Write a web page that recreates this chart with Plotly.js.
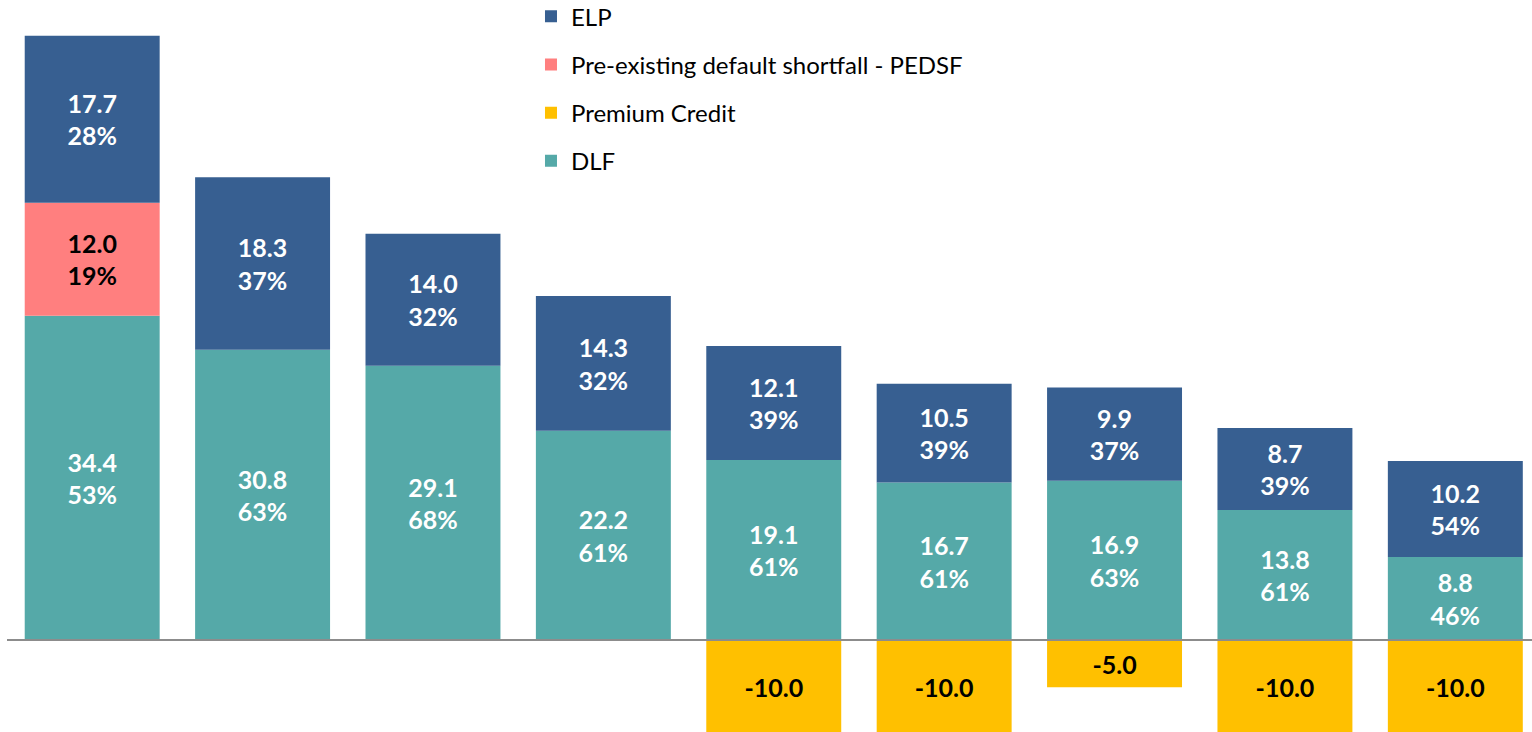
<!DOCTYPE html>
<html>
<head>
<meta charset="utf-8">
<script src="https://cdn.plot.ly/plotly-3.0.1.min.js"></script>
<style>html,body{margin:0;padding:0;background:#fff;}#chart{width:1532px;height:732px;}</style>
</head>
<body>
<div id="chart"></div>
<script>
// Data
const categories = ["1", "2", "3", "4", "5", "6", "7", "8", "9"];
const dlf = [34.4, 30.8, 29.1, 22.2, 19.1, 16.7, 16.9, 13.8, 8.8];
const dlfPct = [53, 63, 68, 61, 61, 61, 63, 61, 46];
const pedsf = [12.0, null, null, null, null, null, null, null, null];
const pedsfPct = [19, null, null, null, null, null, null, null, null];
const elp = [17.7, 18.3, 14.0, 14.3, 12.1, 10.5, 9.9, 8.7, 10.2];
const elpPct = [28, 37, 32, 32, 39, 39, 37, 39, 54];
const premiumCredit = [null, null, null, null, -10.0, -10.0, -5.0, -10.0, -10.0];

const FONT = "Lato, 'Open Sans', sans-serif";
const labelFont = (c) => ({family: FONT, size: 25, color: c, weight: 700});

const traces = [
  {
    type: "bar", name: "DLF", x: categories, y: dlf, customdata: dlfPct,
    marker: {color: "#55A9A8"}, legendrank: 4, legendgroup: "d",
    texttemplate: "<b>%{y:.1f}<br>%{customdata}%</b>", textposition: "inside",
    insidetextanchor: "middle", textangle: 0, insidetextfont: labelFont("#ffffff"),
    hoverinfo: "skip"
  },
  {
    type: "bar", name: "Pre-existing default shortfall - PEDSF", x: categories, y: pedsf, customdata: pedsfPct,
    marker: {color: "#FF7F7F"}, legendrank: 2, legendgroup: "b",
    texttemplate: "<b>%{y:.1f}<br>%{customdata}%</b>", textposition: "inside",
    insidetextanchor: "middle", textangle: 0, insidetextfont: labelFont("#000000"),
    hoverinfo: "skip"
  },
  {
    type: "bar", name: "ELP", x: categories, y: elp, customdata: elpPct,
    marker: {color: "#375F91"}, legendrank: 1, legendgroup: "a",
    texttemplate: "<b>%{y:.1f}<br>%{customdata}%</b>", textposition: "inside",
    insidetextanchor: "middle", textangle: 0, insidetextfont: labelFont("#ffffff"),
    hoverinfo: "skip"
  },
  {
    type: "bar", name: "Premium Credit", x: categories, y: premiumCredit,
    marker: {color: "#FFC000"}, legendrank: 3, legendgroup: "c",
    texttemplate: "<b>%{y:.1f}</b>", textposition: "inside",
    insidetextanchor: "middle", textangle: 0, insidetextfont: labelFont("#000000"),
    hoverinfo: "skip"
  }
];

const layout = {
  width: 1532, height: 732,
  margin: {l: 7, r: 0, t: 0, b: 0, pad: 0, autoexpand: false},
  paper_bgcolor: "#ffffff", plot_bgcolor: "#ffffff",
  barmode: "relative", bargap: 0.208,
  font: {family: FONT, color: "#000000"},
  xaxis: {type: "category", range: [-0.5, 8.45], showticklabels: false, showgrid: false,
          zeroline: false, showline: false, ticks: ""},
  yaxis: {range: [-9.76, 67.9], showticklabels: false, showgrid: false, zeroline: false,
          showline: false, ticks: ""},
  showlegend: true,
  legend: {x: 0.3436, xanchor: "left", y: 1.008, yanchor: "top", bgcolor: "rgba(0,0,0,0)",
           font: {family: FONT, size: 24, color: "#000000"}, traceorder: "grouped",
           tracegroupgap: 14, itemclick: false, itemdoubleclick: false},
  shapes: [{type: "line", xref: "paper", yref: "y", x0: 0, x1: 1, y0: 0, y1: 0,
            line: {color: "#8C8C8C", width: 2}, layer: "above"}]
};

Plotly.newPlot("chart", traces, layout, {displayModeBar: false, staticPlot: true});
</script>
</body>
</html>
